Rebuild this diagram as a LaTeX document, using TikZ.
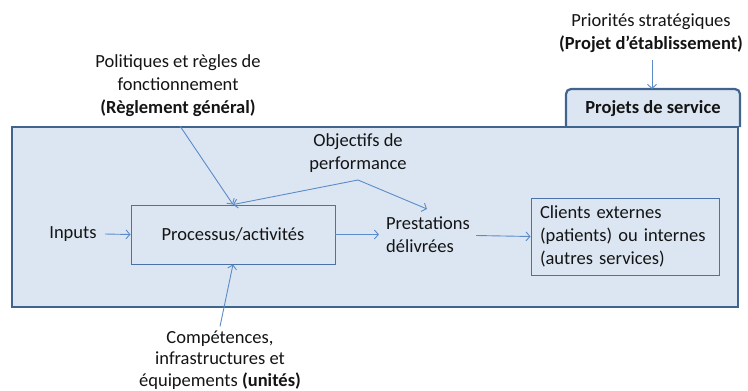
\documentclass[tikz,border=0pt]{standalone}
\usepackage{fontspec}
\setmainfont{Carlito}
\usetikzlibrary{arrows.meta}
\definecolor{bgfill}{HTML}{DCE6F2}
\definecolor{frame}{HTML}{41648F}
\definecolor{boxline}{HTML}{4A72A8}
\definecolor{arrowc}{HTML}{5B8BC8}
\definecolor{txtc}{HTML}{141414}
\begin{document}
\begin{tikzpicture}[x=1pt,y=-1pt,
  txt/.style={font=\fontsize{18.5}{23}\selectfont, text=txtc, align=center, inner sep=2pt},
  ltxt/.style={font=\fontsize{18.5}{23}\selectfont, text=txtc, align=left, inner sep=2pt},
  thinbox/.style={draw=boxline, line width=0.9pt},
  arr/.style={draw=arrowc, line width=0.9pt, -{Straight Barb[length=4pt,width=9pt]}}]
\useasboundingbox (0,0) rectangle (748,391);
% tab (top corners rounded only)
\path[draw=frame, line width=2.2pt, fill=bgfill, rounded corners=5pt]
  (566,127) -- (566,89) -- (740,89) -- (740,127);
\node[minimum width=174, minimum height=37, anchor=north west, inner sep=0] (tab) at (566,89) {};
% main frame
\node[draw=frame, line width=2.2pt, fill=bgfill, minimum width=726, minimum height=180,
  anchor=north west, inner sep=0] (main) at (11,126) {};
\node[txt, font=\fontsize{18.5}{23}\selectfont\bfseries] (tabtxt) at (653,109) {Projets de service};
% top texts
\node[txt] (prio) at (651,33) {Priorités stratégiques\\\textbf{(Projet d’établissement)}};
\node[txt] (pol) at (178,86) {Politiques et règles de\\fonctionnement\\\textbf{(Règlement général)}};
\node[txt] (obj) at (358,153) {Objectifs de\\performance};
% process row
\node[thinbox, minimum width=204, minimum height=59, inner sep=0] (proc) at (233,234.5) {};
\node[txt] (proctxt) at (233,234) {Processus/activités};
\node[txt] (inputs) at (73,234) {Inputs};
\node[ltxt, inner sep=3pt] (presta) at (428,234.5) {Prestations\\délivrées};
\node[thinbox, ltxt, text width=170, minimum height=77, inner xsep=9pt, inner ysep=0pt] (cli) at (625,236.5)
  {Clients externes\\(patients) ou internes\\(autres services)};
\node[txt, font=\fontsize{18.5}{21.5}\selectfont] (comp) at (220,360) {Compétences,\\infrastructures et\\équipements \textbf{(unités)}};
% coordinates
\coordinate (polend) at (180,126);
\coordinate (objb) at (358,180);
\coordinate (prestatop) at (427,209);
\coordinate (prioend) at (652,60);
% connectors
\draw[arr] (prioend) -- (tab.north -| prioend);
\draw[arr] (polend) -- (proc.north);
\draw[arr] (objb) -- (proc.north);
\draw[arr] (objb) -- (prestatop);
\draw[arr] (inputs.east) ++(6,0) -- (proc.west);
\draw[arr] (proc.east) -- ([xshift=-4pt]presta.west);
\draw[arr] (presta.east) ++(3,1) -- (cli.west);
\draw[arr] (comp.north) ++(0,-2) -- (proc.south);
\end{tikzpicture}
\end{document}
